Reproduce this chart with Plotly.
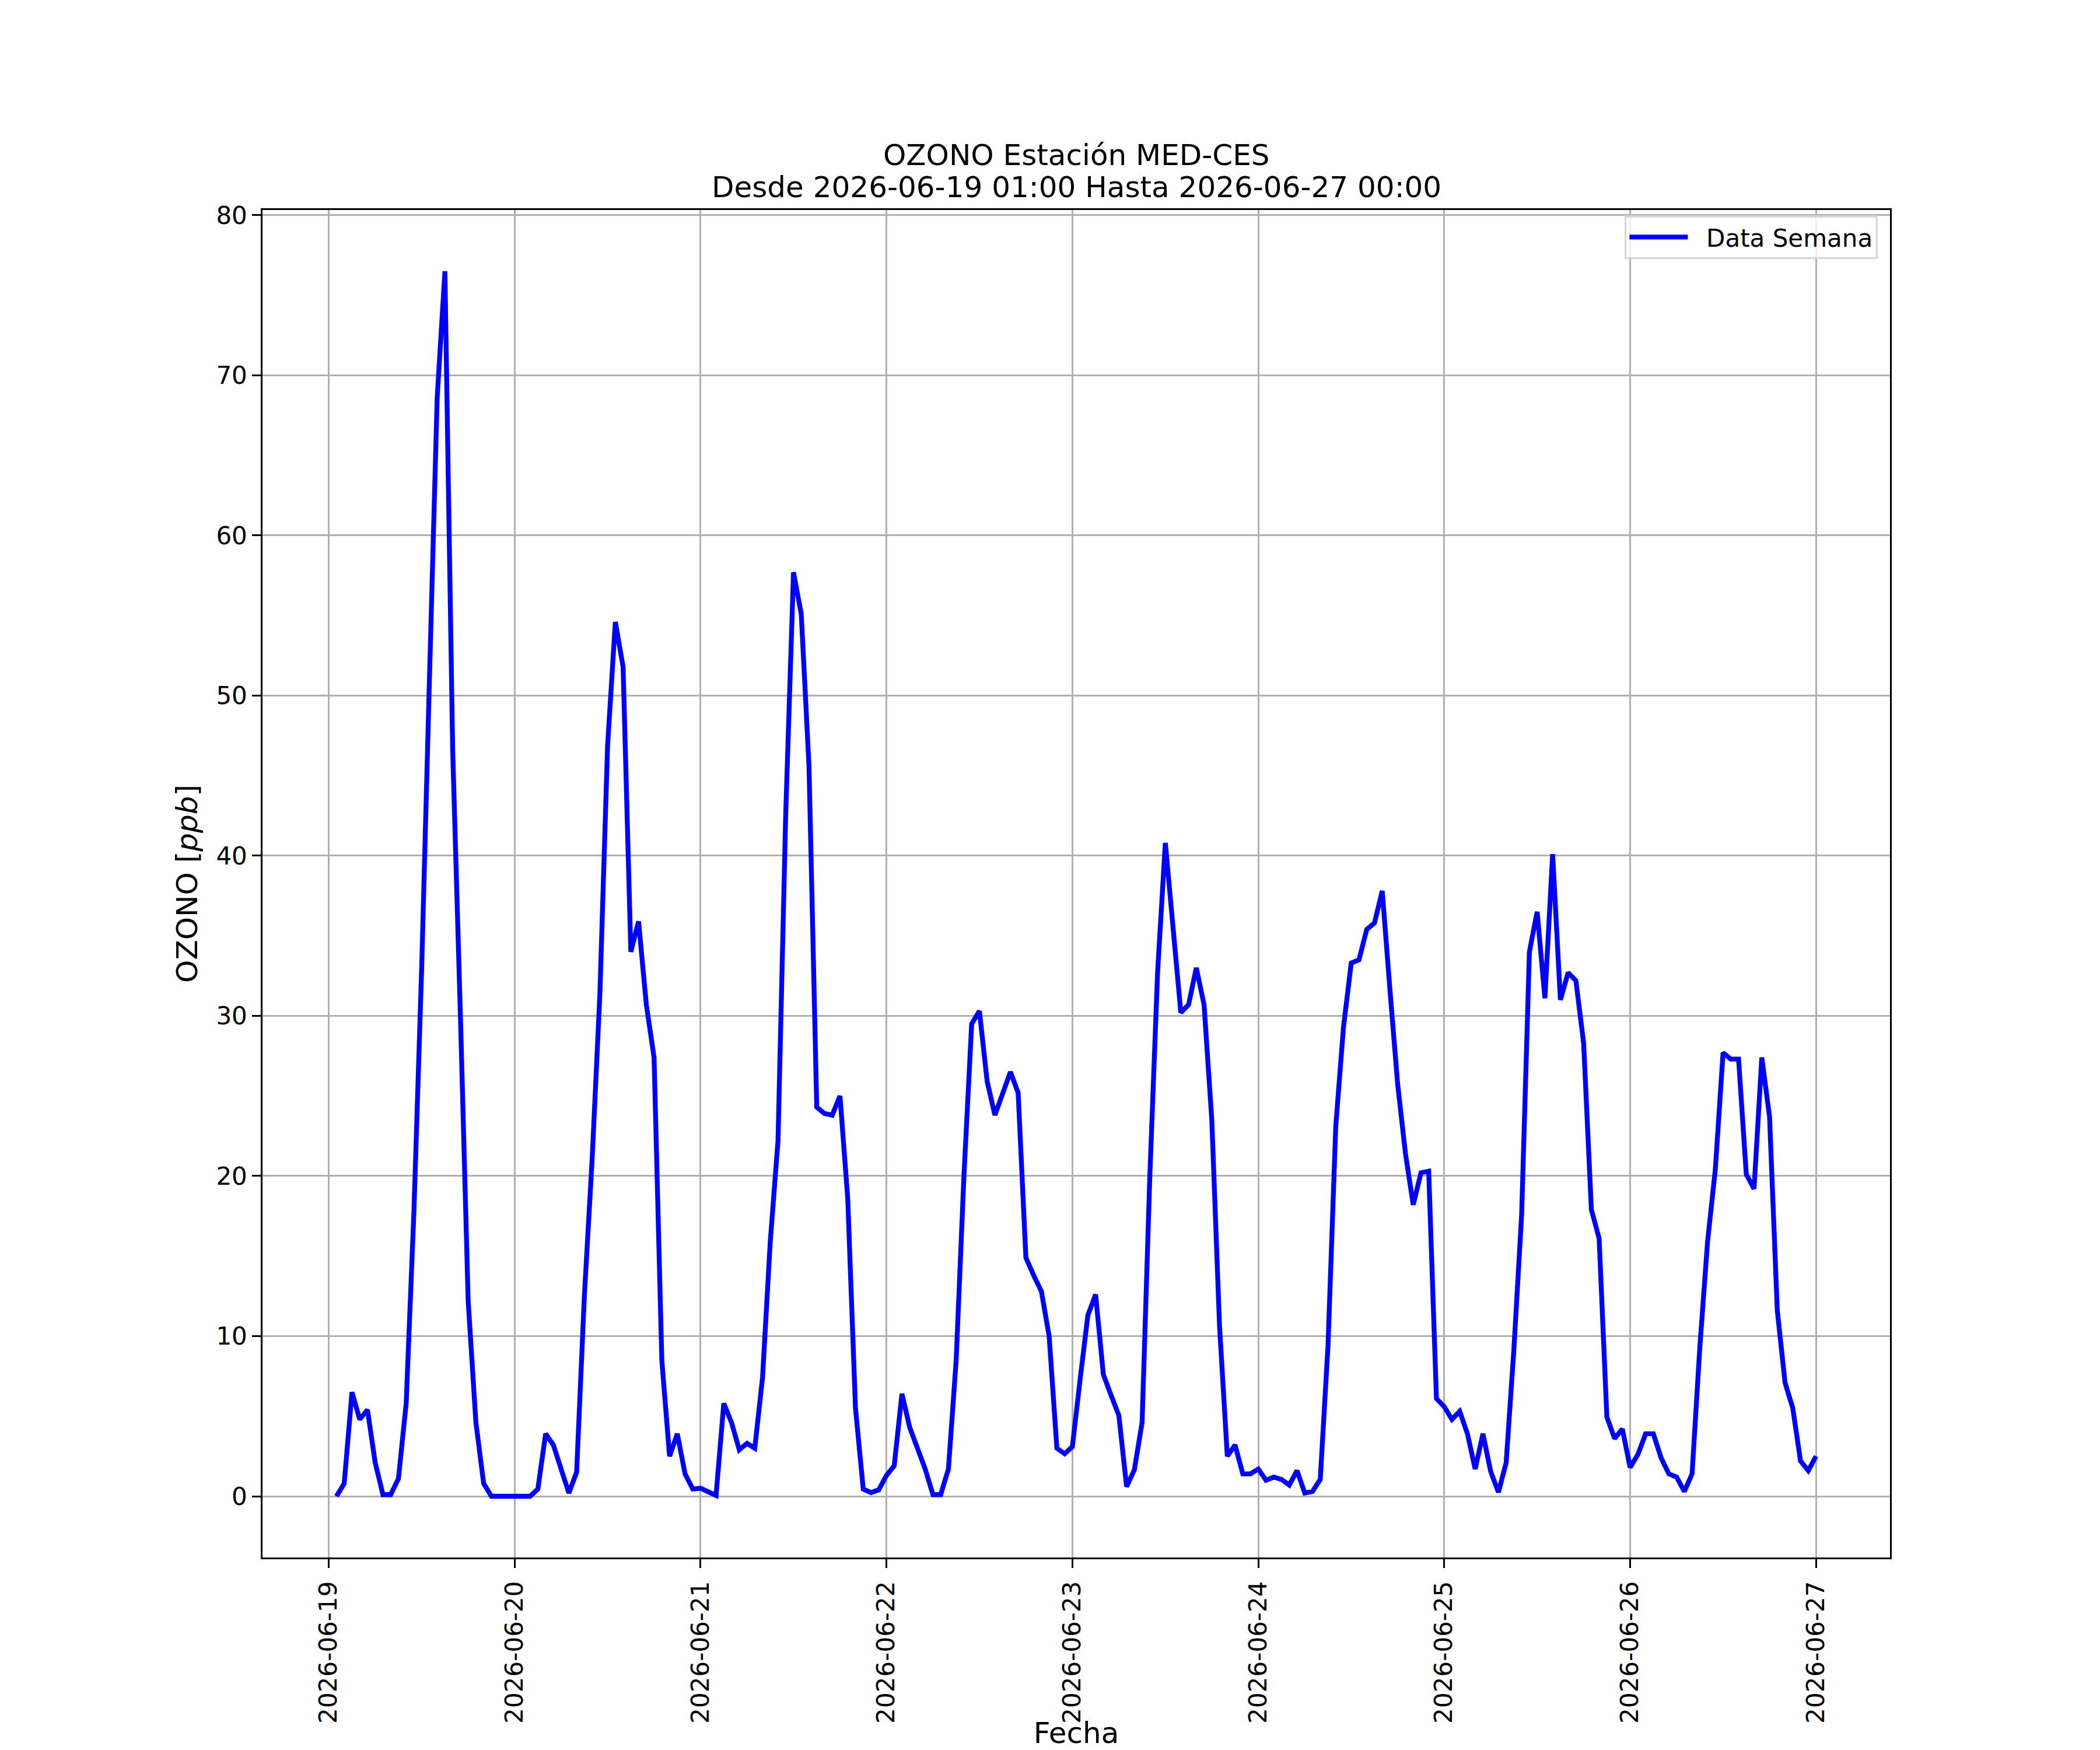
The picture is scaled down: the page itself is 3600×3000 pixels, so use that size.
import pandas as pd
import plotly.graph_objects as go

# Ozono horario, estación MED-CES (ppb), desde 2026-06-19 01:00
START = "2026-06-19 01:00"
END = "2026-06-27 00:00"

dia_19 = [0.0, 0.8, 6.5, 4.8, 5.4, 2.1, 0.1, 0.1, 1.1, 5.8, 17.8, 33.0, 51.0,
          68.6, 76.5, 46.6, 30.0, 12.2, 4.6, 0.8, 0.0, 0.0, 0.0]
dia_20 = [0.0, 0.0, 0.0, 0.45, 3.9, 3.2, 1.7, 0.2, 1.5, 12.5, 21.0, 31.3,
          46.9, 54.6, 51.8, 34.0, 35.9, 30.7, 27.4, 8.5, 2.5, 3.9, 1.4, 0.45]
dia_21 = [0.5, 0.25, 0.05, 5.8, 4.6, 2.9, 3.3, 3.0, 7.4, 15.9, 22.2, 42.7,
          57.7, 55.1, 45.6, 24.3, 23.9, 23.8, 25.0, 18.6, 5.5, 0.45, 0.23, 0.4]
dia_22 = [1.3, 1.9, 6.4, 4.3, 3.1, 1.7, 0.1, 0.1, 1.7, 8.5, 20.0, 29.5,
          30.3, 25.9, 23.8, 25.2, 26.5, 25.2, 14.9, 13.8, 12.8, 10.0, 3.0, 2.65]
dia_23 = [3.1, 7.3, 11.3, 12.6, 7.6, 6.3, 5.05, 0.6, 1.65, 4.6, 20.0, 32.7,
          40.8, 35.5, 30.2, 30.7, 33.0, 30.7, 23.5, 10.6, 2.5, 3.2, 1.4, 1.4]
dia_24 = [1.7, 1.0, 1.2, 1.05, 0.7, 1.6, 0.2, 0.3, 1.05, 9.4, 23.1, 29.3,
          33.3, 33.5, 35.4, 35.8, 37.8, 31.6, 25.7, 21.4, 18.2, 20.2, 20.3, 6.1]
dia_25 = [5.6, 4.8, 5.3, 3.9, 1.7, 3.9, 1.55, 0.25, 2.1, 9.2, 17.6, 34.0,
          36.5, 31.1, 40.1, 31.0, 32.7, 32.2, 28.3, 17.9, 16.1, 4.95, 3.6, 4.2]
dia_26 = [1.8, 2.6, 3.9, 3.9, 2.4, 1.4, 1.2, 0.3, 1.4, 9.3, 15.9, 20.4,
          27.7, 27.3, 27.3, 20.1, 19.2, 27.4, 23.7, 11.6, 7.1, 5.5, 2.2, 1.6]
dia_27 = [2.5]

ozono = dia_19 + dia_20 + dia_21 + dia_22 + dia_23 + dia_24 + dia_25 + dia_26 + dia_27
fechas = pd.date_range(START, END, freq="h")

y_ticks = [0, 10, 20, 30, 40, 50, 60, 70, 80]
x_ticks = pd.date_range("2026-06-19", "2026-06-27", freq="D")

titulo_1 = "OZONO Estación MED-CES"
titulo_2 = "Desde 2026-06-19 01:00 Hasta 2026-06-27 00:00"

# margenes tipo matplotlib (5 %)
span_x = fechas[-1] - fechas[0]
x_range = [fechas[0] - span_x * 0.05, fechas[-1] + span_x * 0.05]
span_y = max(ozono) - min(ozono)
y_range = [min(ozono) - span_y * 0.05, max(ozono) + span_y * 0.05]

FONT = "DejaVu Sans"
GRID = "#b0b0b0"

fig = go.Figure()
fig.add_trace(go.Scatter(
    x=fechas, y=ozono, mode="lines", name="\u00a0\u00a0Data Semana",
    line=dict(color="#0000ff", width=8.3),
))

fig.update_layout(
    width=3600, height=3000,
    paper_bgcolor="white", plot_bgcolor="white",
    font=dict(family=FONT, size=42, color="black"),
    margin=dict(l=450, r=360, t=360, b=330, autoexpand=False),
    showlegend=True,
    legend=dict(
        x=0.9925, y=0.996, xanchor="right", yanchor="top",
        bgcolor="rgba(255,255,255,0.8)", bordercolor="#d6d6d6", borderwidth=3.3,
        font=dict(size=42), itemwidth=100,
    ),
)

# titulo en dos lineas (interlineado de matplotlib)
fig.add_annotation(text=titulo_1, xref="paper", yref="paper", x=0.5, y=1.0407,
                   xanchor="center", yanchor="middle", showarrow=False,
                   font=dict(size=50, color="black"))
fig.add_annotation(text=titulo_2, xref="paper", yref="paper", x=0.5, y=1.0169,
                   xanchor="center", yanchor="middle", showarrow=False,
                   font=dict(size=50, color="black"))

fig.update_xaxes(
    range=x_range, tickvals=x_ticks, tickformat="%Y-%m-%d", tickangle=-90,
    showgrid=True, gridcolor=GRID, gridwidth=3.3, zeroline=False,
    showline=True, linecolor="black", linewidth=3.3, mirror=True,
    ticks="outside", ticklen=14.6, tickwidth=3.3, tickcolor="black",
    ticklabelstandoff=6,
    title=dict(text="Fecha", font=dict(size=50), standoff=16),
    automargin=False,
)
fig.update_yaxes(
    range=y_range, tickvals=y_ticks,
    showgrid=True, gridcolor=GRID, gridwidth=3.3, zeroline=False,
    showline=True, linecolor="black", linewidth=3.3, mirror=True,
    ticks="outside", ticklen=14.6, tickwidth=3.3, tickcolor="black",
    ticklabelstandoff=0,
    title=dict(text="OZONO [<i>ppb</i>]", font=dict(size=50), standoff=16),
    automargin=False,
)

fig.write_html("out.html", config={"displayModeBar": False},
               post_script="document.body.style.margin='0';")
